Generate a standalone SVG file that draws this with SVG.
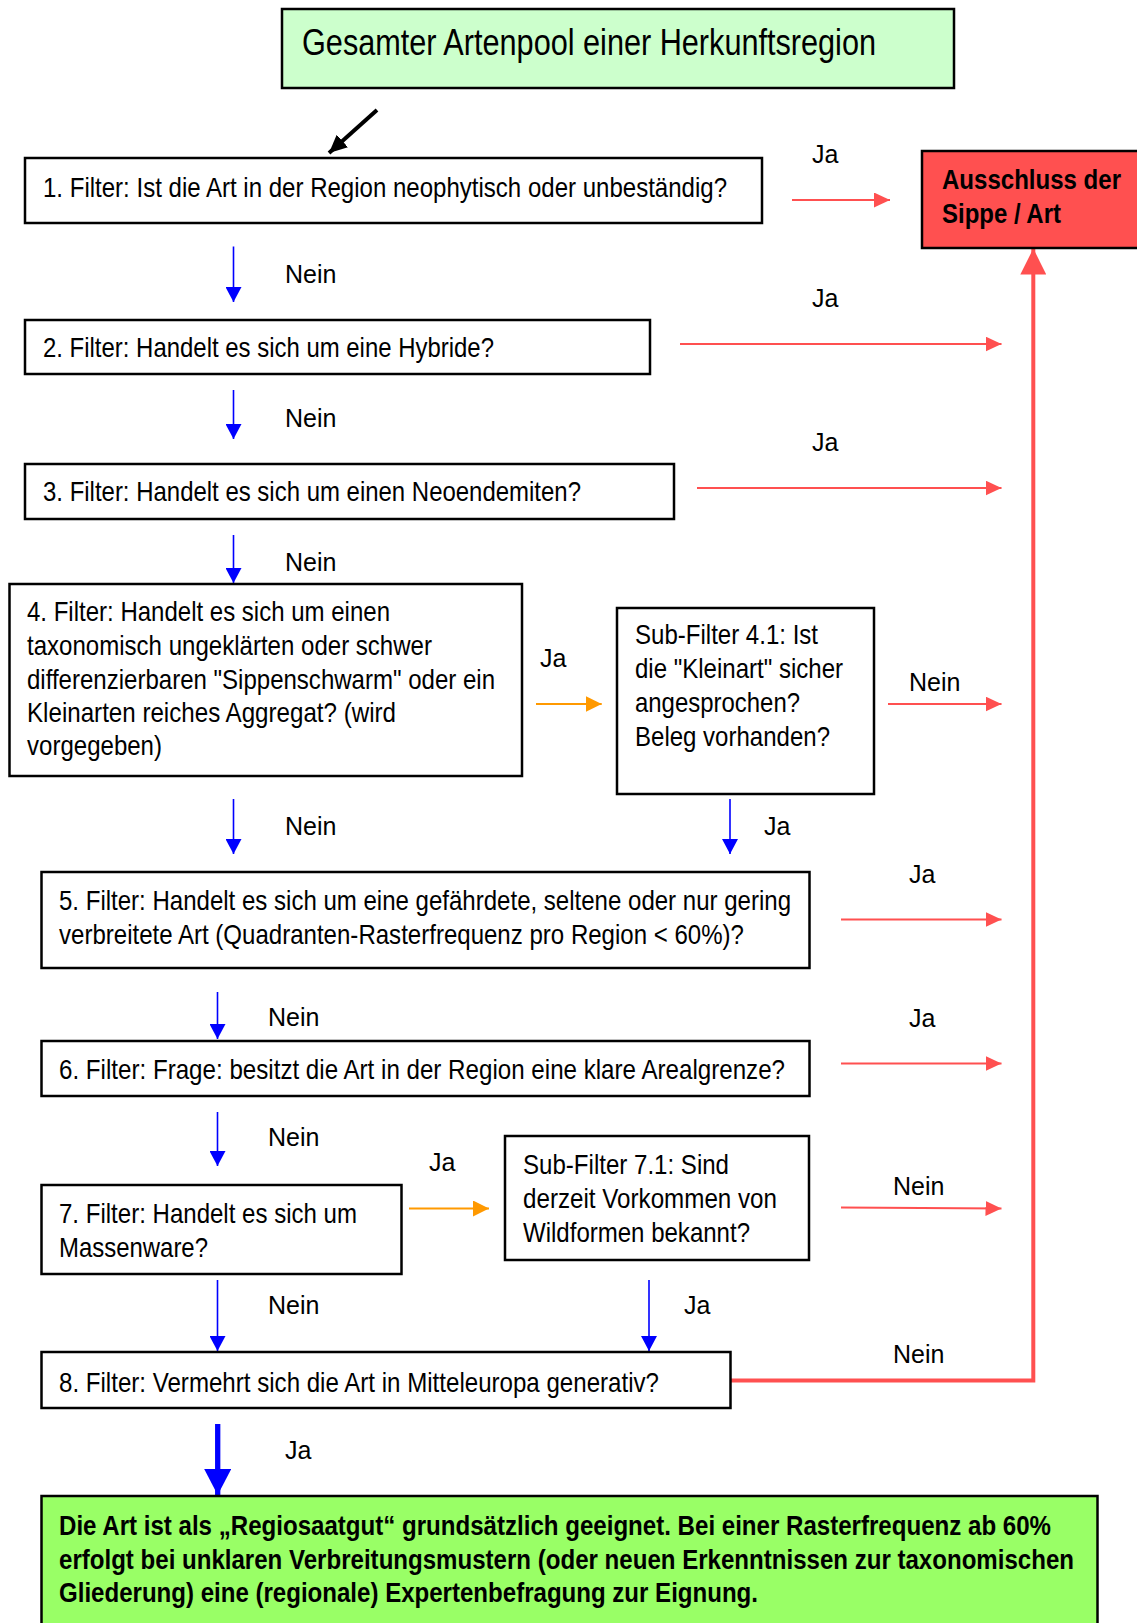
<svg xmlns="http://www.w3.org/2000/svg" width="1137" height="1623" viewBox="0 0 1137 1623">
<style>
.box{fill:#fff;stroke:#000;stroke-width:2.5}
.t{font-family:"Liberation Sans Narrow","Liberation Sans",Arial,sans-serif;font-size:28px;fill:#000}
.b{font-weight:bold}
.lbl{font-family:"Liberation Sans Narrow","Liberation Sans",Arial,sans-serif;font-size:25px;fill:#000}
.blue{stroke:#0000ff;stroke-width:1.6;fill:none}
.red{stroke:#ff5050;stroke-width:2;fill:none}
.orange{stroke:#ff9900;stroke-width:2;fill:none}
</style>
<defs>
<marker id="mb" markerUnits="userSpaceOnUse" markerWidth="15" markerHeight="16" refX="15" refY="8" orient="auto" viewBox="0 0 15 16"><path d="M0,0 L15,8 L0,16 Z" fill="#0000ff"/></marker>
<marker id="mbL" markerUnits="userSpaceOnUse" markerWidth="26" markerHeight="27" refX="26" refY="13.5" orient="auto" viewBox="0 0 26 27"><path d="M0,0 L26,13.5 L0,27 Z" fill="#0000ff"/></marker>
<marker id="mr" markerUnits="userSpaceOnUse" markerWidth="16" markerHeight="15" refX="16" refY="7.5" orient="auto" viewBox="0 0 16 15"><path d="M0,0 L16,7.5 L0,15 Z" fill="#ff5050"/></marker>
<marker id="mrL" markerUnits="userSpaceOnUse" markerWidth="26" markerHeight="26" refX="26" refY="13" orient="auto" viewBox="0 0 26 26"><path d="M0,0 L26,13 L0,26 Z" fill="#ff5050"/></marker>
<marker id="mo" markerUnits="userSpaceOnUse" markerWidth="16" markerHeight="16" refX="16" refY="8" orient="auto" viewBox="0 0 16 16"><path d="M0,0 L16,8 L0,16 Z" fill="#ff9900"/></marker>
<marker id="mk" markerUnits="userSpaceOnUse" markerWidth="18" markerHeight="17" refX="18" refY="8.5" orient="auto" viewBox="0 0 18 17"><path d="M0,0 L18,8.5 L0,17 Z" fill="#000"/></marker>
</defs>

<g id="connectors">
<line x1="377" y1="110" x2="329" y2="153" stroke="#000" stroke-width="4" marker-end="url(#mk)"/>
<line class="blue" x1="233.5" y1="246.5" x2="233.5" y2="302" marker-end="url(#mb)"/>
<line class="blue" x1="233.5" y1="390" x2="233.5" y2="439" marker-end="url(#mb)"/>
<line class="blue" x1="233.5" y1="535" x2="233.5" y2="583" marker-end="url(#mb)"/>
<line class="blue" x1="233.5" y1="799" x2="233.5" y2="854" marker-end="url(#mb)"/>
<line class="blue" x1="730" y1="799" x2="730" y2="854" marker-end="url(#mb)"/>
<line class="blue" x1="217.5" y1="992" x2="217.5" y2="1039" marker-end="url(#mb)"/>
<line class="blue" x1="217.5" y1="1112" x2="217.5" y2="1166" marker-end="url(#mb)"/>
<line class="blue" x1="217.5" y1="1280" x2="217.5" y2="1351" marker-end="url(#mb)"/>
<line class="blue" x1="649" y1="1280" x2="649" y2="1351" marker-end="url(#mb)"/>
<line x1="217.7" y1="1424" x2="217.7" y2="1495" stroke="#0000ff" stroke-width="5.3" marker-end="url(#mbL)"/>
<line class="red" x1="792" y1="200" x2="890" y2="200" marker-end="url(#mr)"/>
<line class="red" x1="680" y1="344" x2="1001.5" y2="344" marker-end="url(#mr)"/>
<line class="red" x1="697" y1="488" x2="1001.5" y2="488" marker-end="url(#mr)"/>
<line class="red" x1="888" y1="704" x2="1001.5" y2="704" marker-end="url(#mr)"/>
<line class="red" x1="841" y1="919.5" x2="1001.5" y2="919.5" marker-end="url(#mr)"/>
<line class="red" x1="841" y1="1063.5" x2="1001.5" y2="1063.5" marker-end="url(#mr)"/>
<line class="red" x1="841" y1="1207.5" x2="1001.5" y2="1208.5" marker-end="url(#mr)"/>
<polyline points="730,1380.5 1033.3,1380.5 1033.3,248.5" fill="none" stroke="#ff5050" stroke-width="4" marker-end="url(#mrL)"/>
<line class="orange" x1="536" y1="704" x2="601.7" y2="704" marker-end="url(#mo)"/>
<line class="orange" x1="409" y1="1208.5" x2="489" y2="1208.5" marker-end="url(#mo)"/>
<text class="lbl" x="812" y="163">Ja</text>
<text class="lbl" x="285" y="283">Nein</text>
<text class="lbl" x="812" y="307">Ja</text>
<text class="lbl" x="285" y="427">Nein</text>
<text class="lbl" x="812" y="451">Ja</text>
<text class="lbl" x="285" y="571">Nein</text>
<text class="lbl" x="540" y="667">Ja</text>
<text class="lbl" x="909" y="691">Nein</text>
<text class="lbl" x="285" y="835">Nein</text>
<text class="lbl" x="764" y="835">Ja</text>
<text class="lbl" x="909" y="883">Ja</text>
<text class="lbl" x="268" y="1026">Nein</text>
<text class="lbl" x="909" y="1027">Ja</text>
<text class="lbl" x="268" y="1146">Nein</text>
<text class="lbl" x="429" y="1171">Ja</text>
<text class="lbl" x="893" y="1195">Nein</text>
<text class="lbl" x="268" y="1314">Nein</text>
<text class="lbl" x="684" y="1314">Ja</text>
<text class="lbl" x="893" y="1363">Nein</text>
<text class="lbl" x="285" y="1459">Ja</text>
</g>

<g id="start">
<rect x="282" y="9" width="672" height="79" fill="#ccffcc" stroke="#000" stroke-width="2.5"/>
<text class="t" x="302" y="55" style="font-size:36px" textLength="574" lengthAdjust="spacingAndGlyphs">Gesamter Artenpool einer Herkunftsregion</text>
</g>

<g id="filter1">
<rect class="box" x="25" y="158" width="737" height="65"/>
<text class="t" x="43" y="197" textLength="684" lengthAdjust="spacingAndGlyphs">1. Filter: Ist die Art in der Region neophytisch oder unbeständig?</text>
</g>

<g id="ausschluss">
<rect x="922" y="151" width="220" height="97" fill="#ff5050" stroke="#000" stroke-width="2.5"/>
<text class="t b" x="942" y="189" textLength="179" lengthAdjust="spacingAndGlyphs">Ausschluss der</text>
<text class="t b" x="942" y="223" textLength="119" lengthAdjust="spacingAndGlyphs">Sippe / Art</text>
</g>

<g id="filter2">
<rect class="box" x="25" y="320" width="625" height="54"/>
<text class="t" x="43" y="357" textLength="451" lengthAdjust="spacingAndGlyphs">2. Filter: Handelt es sich um eine Hybride?</text>
</g>

<g id="filter3">
<rect class="box" x="25" y="464" width="649" height="55"/>
<text class="t" x="43" y="501" textLength="538" lengthAdjust="spacingAndGlyphs">3. Filter: Handelt es sich um einen Neoendemiten?</text>
</g>

<g id="filter4">
<rect class="box" x="9.5" y="584" width="512.5" height="192"/>
<text class="t" x="27" y="621" textLength="363" lengthAdjust="spacingAndGlyphs">4. Filter: Handelt es sich um einen</text>
<text class="t" x="27" y="655" textLength="405" lengthAdjust="spacingAndGlyphs">taxonomisch ungeklärten oder schwer</text>
<text class="t" x="27" y="689" textLength="468" lengthAdjust="spacingAndGlyphs">differenzierbaren "Sippenschwarm" oder ein</text>
<text class="t" x="27" y="722" textLength="369" lengthAdjust="spacingAndGlyphs">Kleinarten reiches Aggregat? (wird</text>
<text class="t" x="27" y="755" textLength="135" lengthAdjust="spacingAndGlyphs">vorgegeben)</text>
</g>

<g id="subfilter41">
<rect class="box" x="617" y="608" width="257" height="186"/>
<text class="t" x="635" y="644" textLength="183" lengthAdjust="spacingAndGlyphs">Sub-Filter 4.1: Ist</text>
<text class="t" x="635" y="678" textLength="208" lengthAdjust="spacingAndGlyphs">die "Kleinart" sicher</text>
<text class="t" x="635" y="712" textLength="165" lengthAdjust="spacingAndGlyphs">angesprochen?</text>
<text class="t" x="635" y="746" textLength="195" lengthAdjust="spacingAndGlyphs">Beleg vorhanden?</text>
</g>

<g id="filter5">
<rect class="box" x="41.5" y="872" width="768" height="96"/>
<text class="t" x="59" y="910" textLength="732" lengthAdjust="spacingAndGlyphs">5. Filter: Handelt es sich um eine gefährdete, seltene oder nur gering</text>
<text class="t" x="59" y="944" textLength="685" lengthAdjust="spacingAndGlyphs">verbreitete Art (Quadranten-Rasterfrequenz pro Region &lt; 60%)?</text>
</g>

<g id="filter6">
<rect class="box" x="41.5" y="1041" width="768" height="55"/>
<text class="t" x="59" y="1079" textLength="726" lengthAdjust="spacingAndGlyphs">6. Filter: Frage: besitzt die Art in der Region eine klare Arealgrenze?</text>
</g>

<g id="filter7">
<rect class="box" x="41.5" y="1185" width="360" height="89"/>
<text class="t" x="59" y="1223" textLength="298" lengthAdjust="spacingAndGlyphs">7. Filter: Handelt es sich um</text>
<text class="t" x="59" y="1257" textLength="149" lengthAdjust="spacingAndGlyphs">Massenware?</text>
</g>

<g id="subfilter71">
<rect class="box" x="505" y="1136" width="304" height="124"/>
<text class="t" x="523" y="1174" textLength="206" lengthAdjust="spacingAndGlyphs">Sub-Filter 7.1: Sind</text>
<text class="t" x="523" y="1208" textLength="254" lengthAdjust="spacingAndGlyphs">derzeit Vorkommen von</text>
<text class="t" x="523" y="1242" textLength="227" lengthAdjust="spacingAndGlyphs">Wildformen bekannt?</text>
</g>

<g id="filter8">
<rect class="box" x="41.5" y="1352" width="689" height="56"/>
<text class="t" x="59" y="1392" textLength="600" lengthAdjust="spacingAndGlyphs">8. Filter: Vermehrt sich die Art in Mitteleuropa generativ?</text>
</g>

<g id="ergebnis">
<rect x="41.5" y="1496" width="1056" height="140" fill="#99ff66" stroke="#000" stroke-width="2.5"/>
<text class="t b" x="59" y="1535" textLength="992" lengthAdjust="spacingAndGlyphs">Die Art ist als „Regiosaatgut“ grundsätzlich geeignet. Bei einer Rasterfrequenz ab 60%</text>
<text class="t b" x="59" y="1569" textLength="1015" lengthAdjust="spacingAndGlyphs">erfolgt bei unklaren Verbreitungsmustern (oder neuen Erkenntnissen zur taxonomischen</text>
<text class="t b" x="59" y="1602" textLength="699" lengthAdjust="spacingAndGlyphs">Gliederung) eine (regionale) Expertenbefragung zur Eignung.</text>
</g>
</svg>
